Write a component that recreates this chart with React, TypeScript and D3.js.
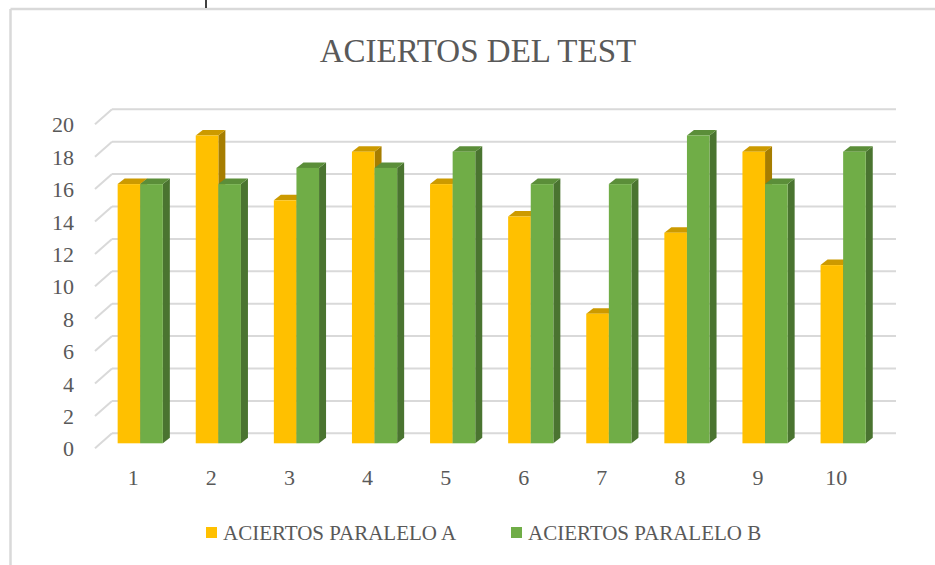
import React from 'react';
import * as d3 from 'd3';

const categories = ['1', '2', '3', '4', '5', '6', '7', '8', '9', '10'];
const seriesNames = ['ACIERTOS PARALELO A', 'ACIERTOS PARALELO B'];
const seriesA = [16, 19, 15, 18, 16, 14, 8, 13, 18, 11];
const seriesB = [16, 16, 17, 17, 18, 16, 16, 19, 16, 18];
const yTicks = [0, 2, 4, 6, 8, 10, 12, 14, 16, 18, 20];
const title = 'ACIERTOS DEL TEST';

const W = 935;
const H = 565;
const FONT = '"Liberation Serif", "DejaVu Serif", serif';
const TXT = '#595959';

const palette = [
  { front: '#FFC000', top: '#CC9A00', side: '#A67D00' },
  { front: '#70AD47', top: '#5B8E39', side: '#4A7430' },
];

export default function App() {
  const x = d3.scaleBand<string>().domain(categories).range([101.2, 882.2]).padding(0);
  const step = x.bandwidth();
  const barW = 22.6;
  const inner = d3
    .scaleBand<number>()
    .domain([0, 1])
    .range([(step - 2 * barW) / 2, (step + 2 * barW) / 2])
    .padding(0);

  const yFront = d3.scaleLinear().domain([0, 20]).range([443.3, 119.3]);
  const yBack = d3.scaleLinear().domain([0, 20]).range([433.3, 109.3]);
  const dx = 7;
  const dy = 5.5;
  const gridX0 = 112;
  const gridX1 = 896;
  const wallX = 95;
  const wallDy = 15;

  const series = [seriesA, seriesB];

  const bars: React.ReactNode[] = [];
  categories.forEach((c, i) => {
    series.forEach((s, si) => {
      const v = s[i];
      const x0 = (x(c) as number) + (inner(si) as number);
      const x1 = x0 + barW;
      const yt = yFront(v);
      const yb = yFront(0);
      const col = palette[si];
      bars.push(
        <g key={`${c}-${si}`}>
          <polygon
            points={`${x1},${yt} ${x1 + dx},${yt - dy} ${x1 + dx},${yb - dy} ${x1},${yb}`}
            fill={col.side}
          />
          <polygon
            points={`${x0},${yt} ${x1},${yt} ${x1 + dx},${yt - dy} ${x0 + dx},${yt - dy}`}
            fill={col.top}
          />
          <rect x={x0} y={yt} width={barW} height={yb - yt} fill={col.front} />
        </g>
      );
    });
  });

  return (
    <svg
      width={W}
      height={H}
      style={{ position: 'absolute', left: 0, top: 0, background: '#fff' }}
      fontFamily={FONT}
    >
      <rect x={0} y={0} width={W} height={H} fill="#fff" />
      {/* frame */}
      <line x1={10.5} y1={9} x2={10.5} y2={H} stroke="#d9d9d9" strokeWidth={2.5} />
      <line x1={10.5} y1={9} x2={W} y2={9} stroke="#d9d9d9" strokeWidth={2.5} />
      <line x1={206} y1={0} x2={206} y2={8} stroke="#000" strokeWidth={1.5} />

      <text x={478} y={51} textAnchor="middle" dominantBaseline="central" fontSize={33} fill={TXT}>
        {title}
      </text>

      {/* gridlines */}
      {yTicks.map((t) => (
        <g key={t}>
          <line x1={wallX} y1={yBack(t) + wallDy} x2={gridX0} y2={yBack(t)} stroke="#d9d9d9" strokeWidth={2} />
          <line x1={gridX0} y1={yBack(t)} x2={gridX1} y2={yBack(t)} stroke="#d9d9d9" strokeWidth={2} />
          <text
            x={74}
            y={yBack(t) + wallDy + 0.5}
            textAnchor="end"
            dominantBaseline="central"
            fontSize={22}
            fill={TXT}
          >
            {t}
          </text>
        </g>
      ))}

      {bars}

      {categories.map((c) => (
        <text
          key={c}
          x={(x(c) as number) + step / 2 - 7}
          y={477}
          textAnchor="middle"
          dominantBaseline="central"
          fontSize={22}
          fill={TXT}
        >
          {c}
        </text>
      ))}

      {/* legend */}
      {seriesNames.map((n, i) => {
        const lx = i === 0 ? 206 : 511;
        return (
          <g key={n}>
            <rect x={lx} y={527} width={11} height={11} fill={palette[i].front} />
            <text x={lx + 17} y={533} dominantBaseline="central" fontSize={21} fill={TXT}>
              {n}
            </text>
          </g>
        );
      })}
    </svg>
  );
}
